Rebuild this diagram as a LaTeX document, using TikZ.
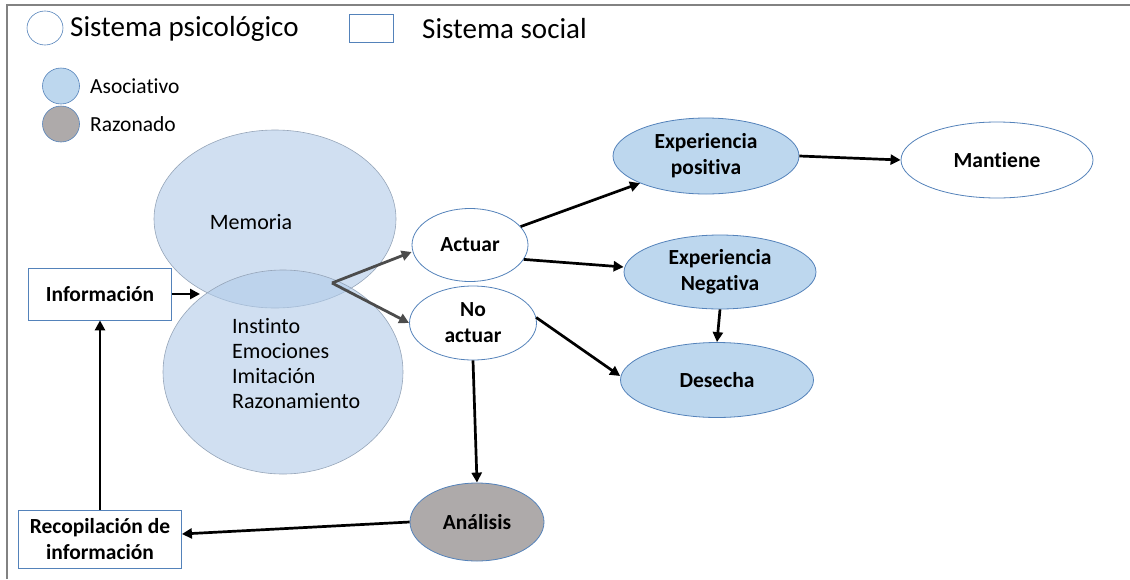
\documentclass[tikz,border=0pt]{standalone}
\usepackage{fontspec}
\setmainfont{Carlito}[Ligatures=NoCommon]
\usetikzlibrary{shapes.geometric,arrows.meta}
\definecolor{bfill}{RGB}{189,215,238}
\definecolor{bline}{RGB}{84,130,186}
\definecolor{gfill}{RGB}{174,170,170}
\definecolor{vfill}{RGB}{176,202,232}
\definecolor{vline}{RGB}{150,165,185}
\definecolor{frame}{RGB}{130,130,130}
\begin{document}
\begin{tikzpicture}[x=1pt,y=-1pt,
  ell/.style={ellipse, draw=bline, line width=0.8pt, inner sep=0pt, align=center,
    font=\fontsize{21.5}{26}\selectfont\bfseries},
  bluee/.style={ell, fill=bfill},
  whitee/.style={ell, fill=white},
  graye/.style={ell, fill=gfill},
  box/.style={rectangle, draw=bline, line width=0.8pt, fill=white, inner sep=0pt, align=center,
    font=\fontsize{21.5}{26}\selectfont\bfseries},
  venn/.style={ellipse, draw=vline, line width=0.6pt, fill=vfill, fill opacity=0.6, inner sep=0pt},
  arr/.style={-{Triangle[length=10pt,width=10pt]}, line width=2.7pt, black},
  garr/.style={-{Triangle[length=10pt,width=10pt]}, line width=2.8pt, color=gray!60!black},
  legtxt/.style={anchor=west, inner sep=0pt, font=\fontsize{29}{34}\selectfont},
  legsm/.style={anchor=west, inner sep=0pt, font=\fontsize{21.5}{26}\selectfont},
  venntxt/.style={inner sep=0pt, font=\fontsize{22}{25}\selectfont},
]
\useasboundingbox (0,0) rectangle (1130,579);
% frame
\draw[frame, line width=2pt] (7,579) -- (7,4.5) -- (1130,4.5);

% legend
\node[ellipse, draw=bline, line width=0.6pt, fill=white, minimum width=36pt, minimum height=34pt, inner sep=0pt] (lpsi) at (45,28) {};
\node[legtxt] (tpsi) at (70,29) {Sistema psicológico};
\node[rectangle, draw=bline, line width=0.8pt, minimum width=44pt, minimum height=28pt, inner sep=0pt] (lsoc) at (371,28) {};
\node[legtxt] (tsoc) at (422,29) {Sistema social};
\node[ellipse, draw=bline, line width=0.6pt, fill=bfill, minimum width=37pt, minimum height=36pt, inner sep=0pt] (lasoc) at (61,86) {};
\node[legsm] (tasoc) at (90,86) {Asociativo};
\node[ellipse, draw=bline, line width=0.6pt, fill=gfill, minimum width=37pt, minimum height=36pt, inner sep=0pt] (lraz) at (61,124) {};
\node[legsm] (traz) at (90,124) {Razonado};

% venn
\node[venn, minimum width=242pt, minimum height=178pt] (mem) at (275,219) {};
\node[venn, minimum width=240pt, minimum height=204pt] (ins) at (283,372) {};
\node[venntxt] (tmem) at (251,222) {Memoria};
\node[venntxt, anchor=north west, align=left] (tins) at (232,318) {Instinto\\Emociones\\Imitación\\Razonamiento};

% nodes
\node[box, minimum width=143pt, minimum height=52pt] (info) at (100,294) {Información};
\node[box, minimum width=163pt, minimum height=58pt] (rec) at (100,539) {Recopilación de\\información};
\node[whitee, minimum width=116pt, minimum height=73pt] (act) at (470,245) {Actuar};
\node[whitee, minimum width=127pt, minimum height=74pt] (noact) at (473,323) {No\\actuar};
\node[graye, minimum width=134pt, minimum height=78pt] (anal) at (477,522) {Análisis};
\node[bluee, minimum width=186pt, minimum height=76pt] (epos) at (706,156) {Experiencia\\positiva};
\node[whitee, minimum width=192pt, minimum height=76pt] (mant) at (997,160) {Mantiene};
\node[bluee, minimum width=192pt, minimum height=74pt] (eneg) at (720,272) {Experiencia\\Negativa};
\node[bluee, minimum width=193pt, minimum height=75pt] (des) at (717,380) {Desecha};

% connectors
\coordinate (split) at (332,283);
\draw[garr] (split) -- (act.west |- 0,252) ;
\draw[garr] (split) -- (noact.west |- 0,323);
\draw[arr] (info.east) -- (200,294);
\draw[arr] (rec.north) -- (info.south);
\draw[arr] (noact.south) -- (anal.north);
\draw[arr] (anal.west) -- (rec.east |- 0,534);
\draw[arr] (act.20) -- (epos.south west);
\draw[arr] (act.-15) -- (eneg.west |- 0,267);
\draw[arr] (noact.5) -- (des.west |- 0,376);
\draw[arr] (epos.east) -- (mant.west);
\draw[arr] (eneg.south) -- (des.north);
\end{tikzpicture}
\end{document}
